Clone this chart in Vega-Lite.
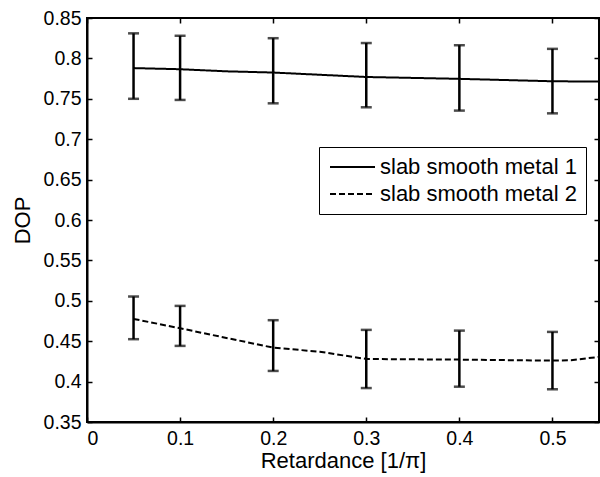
{
  "$schema": "https://vega.github.io/schema/vega-lite/v6.json",
  "autosize": "none",
  "width": 512,
  "height": 404,
  "padding": {"left": 87, "top": 18, "right": 1, "bottom": 55},
  "background": "white",
  "config": {
    "font": "Liberation Sans",
    "view": {"stroke": "black", "strokeWidth": 2},
    "axis": {
      "domainColor": "black", "domainWidth": 2, "tickColor": "black", "tickWidth": 1.5,
      "tickSize": -5, "labelColor": "black", "labelFontSize": 19.5, "labelFont": "Liberation Sans",
      "titleColor": "black", "titleFontSize": 22, "titleFontWeight": "normal", "titleFont": "Liberation Sans",
      "grid": false
    }
  },
  "data": {"values": [
    {"series": "slab smooth metal 1", "x": 0.05, "y": 0.788, "lo": 0.750, "hi": 0.831},
    {"series": "slab smooth metal 1", "x": 0.1, "y": 0.7866, "lo": 0.7486, "hi": 0.828},
    {"series": "slab smooth metal 1", "x": 0.15, "y": 0.784},
    {"series": "slab smooth metal 1", "x": 0.2, "y": 0.7825, "lo": 0.7444, "hi": 0.825},
    {"series": "slab smooth metal 1", "x": 0.3, "y": 0.777, "lo": 0.7395, "hi": 0.819},
    {"series": "slab smooth metal 1", "x": 0.4, "y": 0.7747, "lo": 0.7354, "hi": 0.8163},
    {"series": "slab smooth metal 1", "x": 0.5, "y": 0.7717, "lo": 0.732, "hi": 0.8118},
    {"series": "slab smooth metal 1", "x": 0.55, "y": 0.7713},
    {"series": "slab smooth metal 2", "x": 0.05, "y": 0.4776, "lo": 0.4525, "hi": 0.5053},
    {"series": "slab smooth metal 2", "x": 0.1, "y": 0.466, "lo": 0.4442, "hi": 0.4937},
    {"series": "slab smooth metal 2", "x": 0.2, "y": 0.442, "lo": 0.4132, "hi": 0.476},
    {"series": "slab smooth metal 2", "x": 0.25, "y": 0.437},
    {"series": "slab smooth metal 2", "x": 0.3, "y": 0.428, "lo": 0.392, "hi": 0.464},
    {"series": "slab smooth metal 2", "x": 0.4, "y": 0.4272, "lo": 0.3937, "hi": 0.4631},
    {"series": "slab smooth metal 2", "x": 0.5, "y": 0.426, "lo": 0.3905, "hi": 0.4615},
    {"series": "slab smooth metal 2", "x": 0.52, "y": 0.4265},
    {"series": "slab smooth metal 2", "x": 0.55, "y": 0.4306}
  ]},
  "resolve": {"axis": {"x": "independent", "y": "independent"}},
  "layer": [
    {
      "mark": {"type": "line", "color": "black", "strokeWidth": 2, "clip": true},
      "encoding": {
        "x": {"field": "x", "type": "quantitative", "scale": {"domain": [0, 0.55], "nice": false, "zero": false},
              "axis": {"orient": "bottom", "values": [0, 0.1, 0.2, 0.3, 0.4, 0.5], "format": "~g", "title": "Retardance [1/\u03c0]", "labelPadding": 12, "titlePadding": 3}},
        "y": {"field": "y", "type": "quantitative", "scale": {"domain": [0.35, 0.85], "nice": false, "zero": false},
              "axis": {"orient": "left", "values": [0.35, 0.4, 0.45, 0.5, 0.55, 0.6, 0.65, 0.7, 0.75, 0.8, 0.85], "format": "~g", "title": "DOP", "labelPadding": 11, "titlePadding": 9}},
        "strokeDash": {"field": "series", "type": "nominal",
          "scale": {"domain": ["slab smooth metal 1", "slab smooth metal 2"], "range": [[1, 0], [6, 3]]},
          "legend": {"title": null, "orient": "none", "legendX": 232, "legendY": 129,
            "strokeColor": "black", "fillColor": "white", "padding": 9,
            "symbolType": "M-1,0H4", "symbolSize": 324, "symbolStrokeWidth": 2, "symbolStrokeColor": "black",
            "labelFontSize": 22, "labelFont": "Liberation Sans", "labelColor": "black", "labelOffset": 30, "labelLimit": 400, "rowPadding": 5}}
      }
    },
    {
      "transform": [{"filter": "isValid(datum.lo)"}],
      "mark": {"type": "rule", "color": "black", "strokeWidth": 2.5},
      "encoding": {
        "x": {"field": "x", "type": "quantitative", "axis": null},
        "y": {"field": "lo", "type": "quantitative", "axis": null},
        "y2": {"field": "hi"}
      }
    },
    {
      "transform": [{"filter": "isValid(datum.lo)"}],
      "mark": {"type": "tick", "color": "black", "orient": "horizontal", "size": 11, "thickness": 2.5},
      "encoding": {
        "x": {"field": "x", "type": "quantitative", "axis": null},
        "y": {"field": "hi", "type": "quantitative", "axis": null}
      }
    },
    {
      "transform": [{"filter": "isValid(datum.lo)"}],
      "mark": {"type": "tick", "color": "black", "orient": "horizontal", "size": 11, "thickness": 2.5},
      "encoding": {
        "x": {"field": "x", "type": "quantitative", "axis": null},
        "y": {"field": "lo", "type": "quantitative", "axis": null}
      }
    },
    {
      "mark": {"type": "point", "opacity": 0},
      "encoding": {
        "x": {"field": "x", "type": "quantitative",
              "axis": {"orient": "top", "values": [0, 0.1, 0.2, 0.3, 0.4, 0.5], "labels": false, "title": null, "domain": false}},
        "y": {"field": "y", "type": "quantitative",
              "axis": {"orient": "right", "values": [0.35, 0.4, 0.45, 0.5, 0.55, 0.6, 0.65, 0.7, 0.75, 0.8, 0.85], "labels": false, "title": null, "domain": false}}
      }
    }
  ]
}
